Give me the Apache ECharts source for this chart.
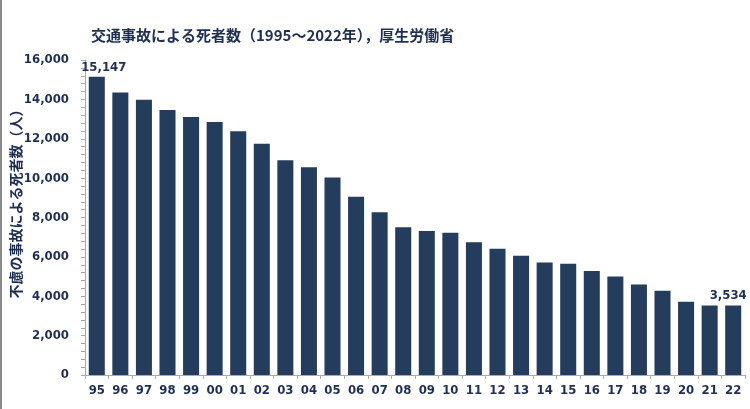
<!DOCTYPE html>
<html>

<head>
    <meta charset="utf-8">
    <script src="https://cdn.jsdelivr.net/npm/echarts@6/dist/echarts.min.js"></script>
</head>

<body style="margin:0;">
    <div id="main" style="width: 750px;height:409px;"></div>
    <script type="text/javascript">
        // データ
        var years = ['95', '96', '97', '98', '99', '00', '01', '02', '03', '04', '05', '06', '07', '08',
            '09', '10', '11', '12', '13', '14', '15', '16', '17', '18', '19', '20', '21', '22'];
        var deaths = [15147, 14343, 13981, 13464, 13111, 12857, 12378, 11743, 10913, 10551, 10028, 9048, 8268, 7499,
            7309, 7222, 6741, 6414, 6060, 5717, 5646, 5278, 5004, 4595, 4279, 3718, 3536, 3534];
        var yTicks = [0, 2000, 4000, 6000, 8000, 10000, 12000, 14000, 16000];

        var navy = '#1f2f52';
        var barColor = '#253d5d';
        var numFont = '"DejaVu Sans Condensed", sans-serif';
        var jpFont = '"Noto Sans CJK JP", sans-serif';

        var myChart = echarts.init(document.getElementById('main'));

        myChart.setOption({
            animation: false,
            title: {
                text: '交通事故による死者数（1995～2022年），厚生労働省',
                left: 86,
                top: 23,
                textStyle: { fontFamily: jpFont, fontSize: 15, fontWeight: 'bold', color: navy }
            },
            grid: { left: 85, right: 5, top: 60, bottom: 34, outerBoundsMode: 'none', containLabel: false },
            xAxis: {
                type: 'category',
                data: years,
                axisLine: { lineStyle: { color: '#aaaaaa' } },
                axisTick: { show: true, length: 4, lineStyle: { color: '#aaaaaa' } },
                axisLabel: {
                    margin: 9,
                    fontFamily: numFont, fontSize: 13, fontWeight: 'bold', color: navy
                }
            },
            yAxis: {
                type: 'value',
                min: yTicks[0],
                max: yTicks[yTicks.length - 1],
                interval: 2000,
                name: '不慮の事故による死者数（人）',
                nameLocation: 'middle',
                nameRotate: 90,
                nameGap: 62,
                nameMoveOverlap: false,
                nameTextStyle: {
                    fontFamily: jpFont, fontSize: 14, fontWeight: 'bold', color: navy,
                    padding: [0, 0, 0, 34]
                },
                axisLine: { show: true, lineStyle: { color: '#aaaaaa' } },
                axisTick: { show: true, length: 4, lineStyle: { color: '#aaaaaa' } },
                minorTick: { show: true, splitNumber: 5, length: 4, lineStyle: { color: '#aaaaaa' } },
                splitLine: { show: false },
                axisLabel: {
                    margin: 16,
                    fontFamily: numFont, fontSize: 13, fontWeight: 'bold', color: navy,
                    formatter: function (v) { return v.toLocaleString('en-US'); }
                }
            },
            graphic: [{
                type: 'rect',
                shape: { x: 0, y: 0, width: 2, height: 409 },
                style: { fill: '#8a8a8a' }
            }],
            series: [{
                type: 'bar',
                barWidth: '68%',
                itemStyle: { color: barColor },
                data: deaths.map(function (v, i) {
                    var first = i === 0;
                    var last = i === deaths.length - 1;
                    return {
                        value: v,
                        label: {
                            show: first || last,
                            position: 'top',
                            distance: 3,
                            offset: [first ? 7 : (last ? -5 : 0), 0],
                            fontFamily: numFont, fontSize: 13, fontWeight: 'bold', color: navy,
                            formatter: function (p) { return p.value.toLocaleString('en-US'); }
                        }
                    };
                })
            }]
        });
    </script>
</body>

</html>
